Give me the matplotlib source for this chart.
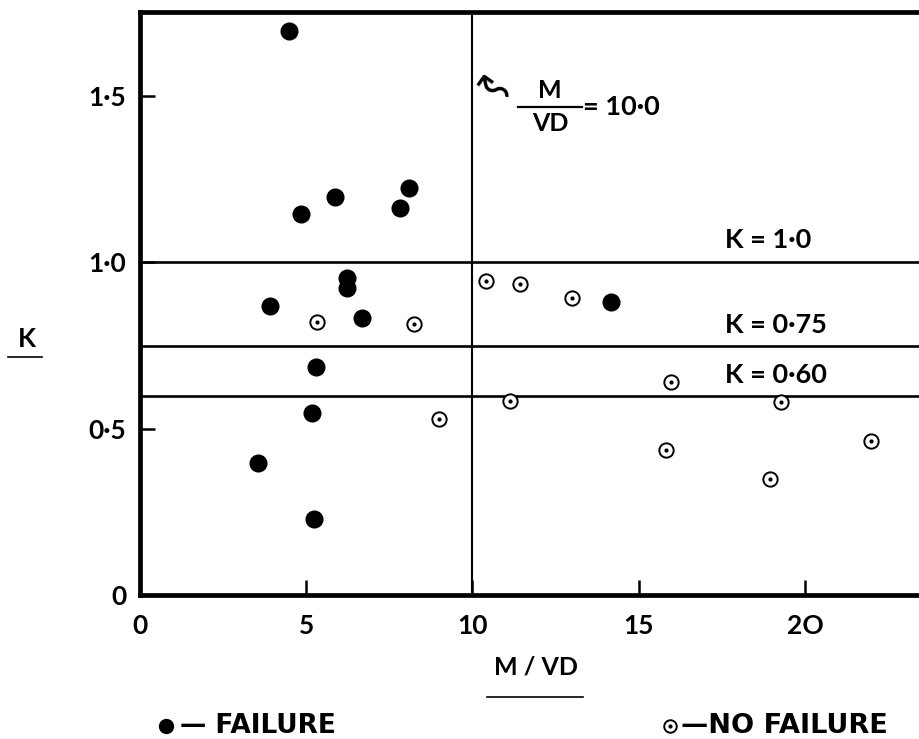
"""Shear failure plot: K against M/VD, with failure / no-failure points."""

import matplotlib
matplotlib.use("Agg")
import matplotlib.pyplot as plt
from matplotlib.lines import Line2D

plt.rcParams['font.family'] = ['Lato', 'DejaVu Sans']

# data
fail_x = [4.47, 4.84, 5.87, 8.10, 7.83, 6.24, 6.24, 3.92, 6.69, 5.28, 5.16, 3.54, 5.24, 14.18]
fail_k = [1.695, 1.144, 1.198, 1.223, 1.165, 0.954, 0.922, 0.870, 0.832, 0.687, 0.547, 0.399, 0.230, 0.880]

nofail_x = [10.41, 11.44, 12.98, 5.31, 8.23, 9.00, 11.12, 15.98, 19.27, 21.99, 15.82, 18.94]
nofail_k = [0.944, 0.934, 0.894, 0.821, 0.816, 0.529, 0.585, 0.640, 0.582, 0.465, 0.437, 0.349]

k_limits = [1.0, 0.75, 0.60]
k_labels = ['K = 1·0', 'K = 0·75', 'K = 0·60']
k_label_y = [1.067, 0.812, 0.662]
md_limit = 10.0

xticks = [0, 5, 10, 15, 20]
xticklabels = ['0', '5', '10', '15', '2O']
yticks = [0, 0.5, 1.0, 1.5]
yticklabels = ['0', '0·5', '1·0', '1·5']

fig = plt.figure(figsize=(9.2, 7.39), dpi=100)
ax = fig.add_axes([0.1522, 0.1942, 0.8478, 0.79])
ax.set_xlim(0, 23.46)
ax.set_ylim(0, 1.753)

for s in ['left', 'bottom', 'top']:
    ax.spines[s].set_linewidth(3.4)
ax.spines['right'].set_visible(False)

ax.set_xticks(xticks)
ax.set_xticklabels(xticklabels, fontweight='bold')
ax.set_yticks(yticks)
ax.set_yticklabels(yticklabels, fontweight='bold')
ax.tick_params(direction='in', length=11, width=1.8, labelsize=19, pad=13)
ax.tick_params(axis='y', pad=10)

# limit lines
for k in k_limits:
    ax.axhline(k, color='black', lw=1.9)
ax.axvline(md_limit, color='black', lw=1.5)

for lbl, y in zip(k_labels, k_label_y):
    ax.text(17.6, y, lbl, fontsize=19.5, fontweight='bold', va='center', ha='left')

# points
ax.plot(fail_x, fail_k, 'o', color='black', ms=12, mec='black', zorder=5)
ax.plot(nofail_x, nofail_k, 'o', mfc='white', mec='black', ms=10.3, mew=1.4, zorder=5)
ax.plot(nofail_x, nofail_k, 'o', color='black', ms=2, zorder=6)

# M/VD = 10 annotation
ax.text(10.62, 1.525, '↜', fontsize=30, ha='center', va='center', family='DejaVu Sans',
        rotation=-35)
ax.text(12.33, 1.515, 'M', fontsize=18, fontweight='bold', ha='center', va='center')
ax.plot([11.37, 13.29], [1.467, 1.467], color='black', lw=1.6)
ax.text(12.33, 1.416, 'VD', fontsize=18, fontweight='bold', ha='center', va='center')
ax.text(13.33, 1.467, '= 10·0', fontsize=19.5, fontweight='bold', ha='left', va='center')

# axis labels (underlined)
fig.text(27 / 920, 1 - 339 / 739, 'K', fontsize=19, fontweight='bold', ha='center', va='center')
fig.add_artist(Line2D([8 / 920, 42 / 920], [1 - 357 / 739] * 2, color='black', lw=1.2))
fig.text(536 / 920, 1 - 667 / 739, 'M / VD', fontsize=18, fontweight='bold', ha='center', va='center')
fig.add_artist(Line2D([487 / 920, 583 / 920], [1 - 697 / 739] * 2, color='black', lw=1.2))

# key
fig.add_artist(Line2D([166 / 920], [1 - 726 / 739], marker='o', ms=10, color='black'))
fig.text(180 / 920, 1 - 726 / 739, '— FAILURE', fontsize=19, fontweight='bold',
         family='DejaVu Sans', ha='left', va='center')
fig.add_artist(Line2D([670 / 920], [1 - 726 / 739], marker='o', ms=9, mfc='white',
                      mec='black', mew=1.4))
fig.add_artist(Line2D([670 / 920], [1 - 726 / 739], marker='o', ms=2, color='black'))
fig.text(681 / 920, 1 - 726 / 739, '—NO FAILURE', fontsize=19.5, fontweight='bold',
         family='DejaVu Sans', ha='left', va='center')

fig.savefig('out.png', dpi=100)
